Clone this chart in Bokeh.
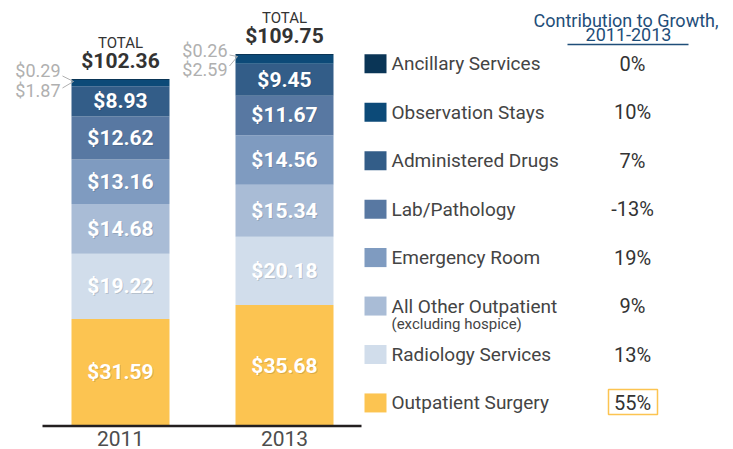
import numpy as np
from bokeh.plotting import figure
from bokeh.models import Range1d, ColumnDataSource
from bokeh.embed import file_html
from bokeh.resources import INLINE
from bokeh.core.properties import value

# ---------------- data ----------------
years = ["2011", "2013"]
# bottom -> top of the stacks
categories = ["Outpatient Surgery", "Radiology Services", "All Other Outpatient",
              "Emergency Room", "Lab/Pathology", "Administered Drugs",
              "Observation Stays", "Ancillary Services"]
vals_2011 = [31.59, 19.22, 14.68, 13.16, 12.62, 8.93, 1.87, 0.29]
vals_2013 = [35.68, 20.18, 15.34, 14.56, 11.67, 9.45, 2.59, 0.26]
totals = [102.36, 109.75]
growth = ["55%", "13%", "9%", "19%", "-13%", "7%", "10%", "0%"]
colors = ["#fcc451", "#d1ddeb", "#a9bcd6", "#7f9bc0", "#5878a2",
          "#335d88", "#0c4a78", "#0a3556"]

# ---------------- layout ----------------
W, H = 733, 449
BASE_PX = H - 425.5     # baseline height above bottom (px)
PX_PER = 3.39           # px per dollar
X_POS = [120, 284]      # bar centres (px)
BAR_W = 98
FONT = value("Roboto")

p = figure(width=W, height=H, output_backend="svg", toolbar_location=None,
           x_range=Range1d(0, W),
           y_range=Range1d(-BASE_PX / PX_PER, (H - BASE_PX) / PX_PER),
           x_axis_location=None, y_axis_location=None, min_border=0,
           outline_line_color=None)
p.extra_y_ranges = {"px": Range1d(0, H)}
p.grid.visible = False
p.background_fill_color = "white"
p.border_fill_color = "white"

def sy(screen_y):
    return H - screen_y

# stacked bars
keys = [f"c{i}" for i in range(len(categories))]
data = {"x": X_POS}
for i, k in enumerate(keys):
    data[k] = [vals_2011[i], vals_2013[i]]
src = ColumnDataSource(data)
p.vbar_stack(keys, x="x", width=BAR_W, color=colors, line_color=None, source=src)

# segment labels (all but the two thin top segments)
lx, ly, lt = [], [], []
for j, vals in enumerate([vals_2011, vals_2013]):
    cum = np.cumsum([0] + vals)
    for i in range(6):
        lx.append(X_POS[j])
        ly.append((cum[i] + cum[i + 1]) / 2)
        lt.append(f"${vals[i]:.2f}")
p.text(lx, ly, text=lt, text_align="center", text_baseline="middle",
       text_font=FONT, text_font_size="21px", text_font_style="bold",
       text_color="black", text_alpha=0.15, x_offset=1, y_offset=1)
p.text(lx, ly, text=lt, text_align="center", text_baseline="middle",
       text_font=FONT, text_font_size="21px", text_font_style="bold",
       text_color="white")

# baseline
p.segment(x0=[42], y0=[sy(425.5)], x1=[361], y1=[sy(425.5)],
          line_color="#231f20", line_width=2.5, y_range_name="px")

# year labels
p.text(X_POS, [sy(430)] * 2, text=years, text_align="center", text_baseline="top",
       text_font=FONT, text_font_size="21px", text_color="#4d4d4d", y_range_name="px")

# totals
p.text(X_POS, totals, text=["TOTAL"] * 2, text_align="center", text_baseline="middle",
       y_offset=-36, text_font=FONT, text_font_size="15px", text_color="#333333")
p.text(X_POS, totals, text=[f"${t:.2f}" for t in totals], text_align="center",
       text_baseline="middle", y_offset=-18, text_font=FONT, text_font_size="21px",
       text_font_style="bold", text_color="#333333")

# small grey labels for the two thin top segments
bar_left = [x - BAR_W / 2 for x in X_POS]
tops = [sum(vals_2011), sum(vals_2013)]
up_off = [-8, -4]
lo_off = [12, 15]
gap = [11, 8]
p.text(bar_left, tops, text=[f"${vals_2011[7]:.2f}", f"${vals_2013[7]:.2f}"],
       text_align="right", text_baseline="middle", x_offset=[-g for g in gap],
       y_offset=up_off, text_font=FONT, text_font_size="18px", text_color="#b0b0b0")
p.text(bar_left, tops, text=[f"${vals_2011[6]:.2f}", f"${vals_2013[6]:.2f}"],
       text_align="right", text_baseline="middle", x_offset=[-g for g in gap],
       y_offset=lo_off, text_font=FONT, text_font_size="18px", text_color="#b0b0b0")
sx0, sy0, sx1, sy1 = [], [], [], []
for j in range(2):
    for start_off in (up_off[j] + 5, lo_off[j] - 3):
        sx0.append(bar_left[j] - gap[j] + 2)
        sy0.append(tops[j] - start_off / PX_PER)
        sx1.append(bar_left[j] + 2)
        sy1.append(tops[j] - 2.5 / PX_PER)
p.segment(sx0, sy0, sx1, sy1, line_color="#b0b0b0", line_width=1)

# legend + contribution column
row_y = [sy(63.3 + 48.45 * i) for i in range(len(categories))]
leg_cats = categories[::-1]
leg_cols = colors[::-1]
leg_growth = growth[::-1]
p.rect([375] * len(row_y), row_y, width=22, height=19, fill_color=leg_cols,
       line_color=None, y_range_name="px")
p.text([391] * len(row_y), row_y, text=leg_cats, text_align="left",
       text_baseline="middle", text_font=FONT, text_font_size="19px",
       text_color="#444444", y_range_name="px")
p.text([391], [sy(323)], text=["(excluding hospice)"], text_align="left",
       text_baseline="middle", text_font=FONT, text_font_size="15px",
       text_color="#444444", y_range_name="px")
p.text([632] * len(row_y), row_y, text=leg_growth, text_align="center",
       text_baseline="middle", text_font=FONT, text_font_size="20px",
       text_color="#333333", y_range_name="px")
p.rect([632.5], [sy(401.5)], width=49, height=25, fill_color=None,
       line_color="#fcc451", line_width=1.5, y_range_name="px")

# header
p.text([625.5, 628], [sy(19.5), sy(34)], text=["Contribution to Growth,", "2011-2013"],
       text_align="center", text_baseline="alphabetic", text_font=FONT,
       text_font_size="18px", text_color="#1f4e79", y_range_name="px")
p.segment(x0=[567], y0=[sy(44)], x1=[688], y1=[sy(44)],
          line_color="#1f4e79", line_width=1.5, y_range_name="px")

open("out.html", "w").write(file_html(p, INLINE))
